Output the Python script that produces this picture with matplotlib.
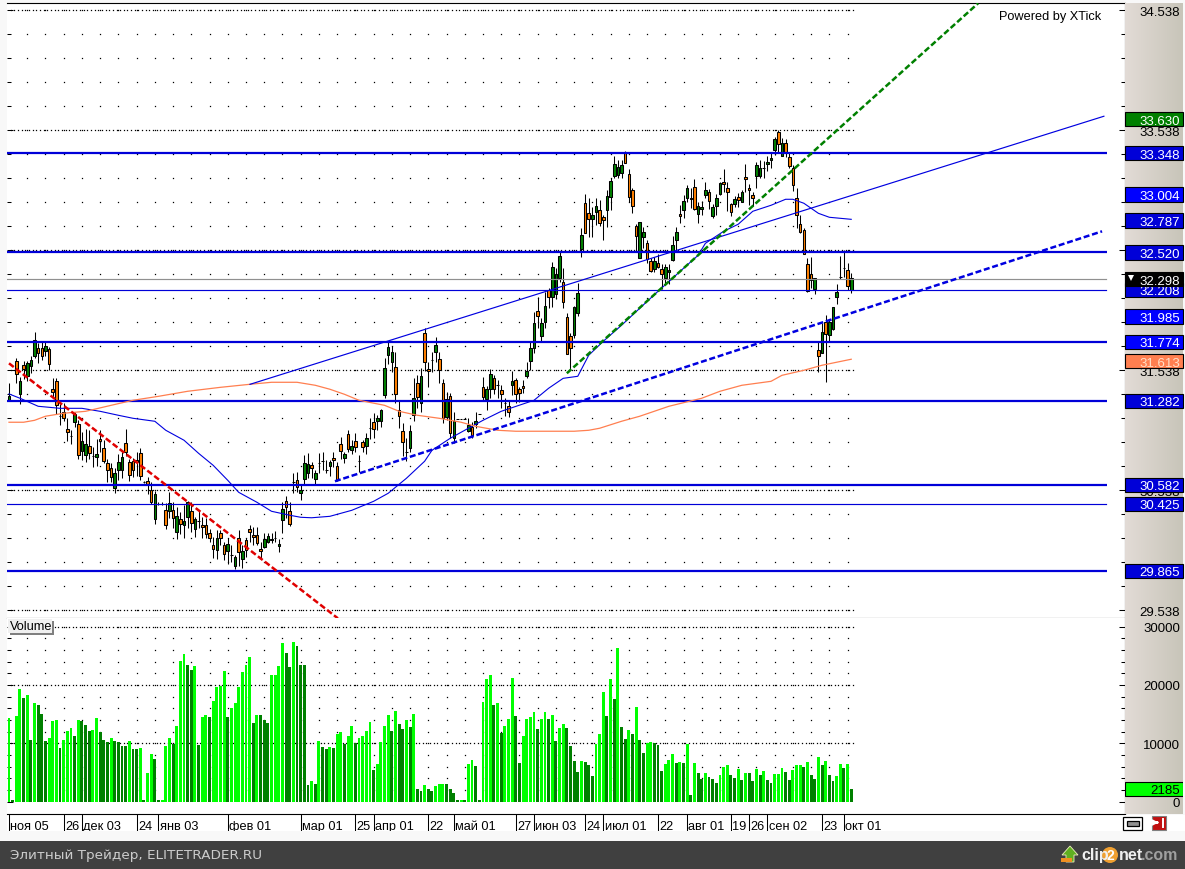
import numpy as np
import matplotlib
matplotlib.use('Agg')
import matplotlib.pyplot as plt
from matplotlib.patches import Rectangle, Circle, Polygon

plt.rcParams['font.family'] = ['Liberation Sans', 'DejaVu Sans']

highs = [
    31.430, 31.544, 31.638, 31.485, 31.619, 31.619, 31.660, 31.855, 31.763, 31.771,
    31.782, 31.735, 31.477, 31.477, 31.255, 31.263, 31.144, 31.041, 31.194, 31.124,
    31.027, 31.046, 31.041, 30.902, 30.966, 31.041, 30.957, 30.799, 30.763, 30.721,
    30.838, 30.855, 31.049, 30.799, 30.810, 30.860, 30.888, 30.616, 30.646, 30.610,
    30.532, 30.438, 30.438, 30.430, 30.527, 30.444, 30.396, 30.360, 30.416, 30.449,
    30.444, 30.319, 30.366, 30.319, 30.305, 30.213, 30.152, 30.207, 30.207, 30.110,
    30.138, 30.082, 29.999, 30.210, 30.082, 30.138, 30.249, 30.235, 30.230, 30.110,
    30.180, 30.185, 30.180, 30.202, 30.132, 30.444, 30.494, 30.444, 30.680, 30.694,
    30.591, 30.832, 30.846, 30.777, 30.707, 30.846, 30.860, 30.791, 30.791, 30.860,
    30.777, 30.985, 30.860, 31.041, 30.957, 31.013, 30.832, 30.957, 31.013, 31.138,
    31.179, 31.165, 31.213, 31.638, 31.777, 31.743, 31.688, 31.285, 31.096, 30.971,
    31.082, 31.471, 31.499, 31.554, 31.888, 31.610, 31.688, 31.813, 31.688, 31.465,
    31.354, 31.346, 31.193, 31.135, 31.135, 31.135, 31.138, 31.110, 31.193, 31.177,
    31.479, 31.410, 31.546, 31.499, 31.457, 31.415, 31.304, 31.282, 31.535, 31.471,
    31.402, 31.457, 31.610, 31.782, 32.027, 32.152, 31.971, 32.193, 32.227, 32.443,
    32.388, 32.527, 32.388, 32.013, 31.846, 32.077, 32.263, 32.727, 33.005, 32.977,
    32.902, 32.977, 32.960, 32.832, 33.041, 33.138, 33.327, 33.291, 33.291, 33.366,
    33.219, 33.055, 32.755, 32.777, 32.732, 32.624, 32.471, 32.485, 32.507, 32.427,
    32.424, 32.424, 32.660, 32.735, 32.916, 32.999, 33.082, 33.055, 33.130, 32.944,
    32.949, 33.105, 33.049, 32.921, 33.005, 33.110, 33.219, 33.110, 32.930, 32.994,
    33.013, 33.041, 33.255, 33.088, 33.027, 33.277, 33.288, 33.285, 33.327, 33.360,
    33.485, 33.541, 33.471, 33.466, 33.346, 33.249, 33.055, 32.832, 32.721, 32.471,
    32.485, 32.310, 31.771, 31.930, 31.999, 31.957, 32.069, 32.255, 32.494, 32.541,
    32.430, 32.346]

lows = [
    31.291, 31.544, 31.430, 31.255, 31.466, 31.452, 31.513, 31.638, 31.602, 31.624,
    31.660, 31.541, 31.319, 31.171, 31.082, 31.116, 30.949, 30.924, 31.069, 30.799,
    30.791, 30.777, 30.799, 30.730, 30.744, 30.860, 30.763, 30.605, 30.610, 30.513,
    30.624, 30.638, 30.827, 30.616, 30.646, 30.660, 30.624, 30.596, 30.507, 30.421,
    30.257, 30.416, 30.416, 30.216, 30.305, 30.227, 30.132, 30.171, 30.144, 30.221,
    30.194, 30.146, 30.221, 30.144, 30.138, 30.110, 29.971, 29.963, 30.082, 29.957,
    29.921, 29.944, 29.880, 29.907, 29.894, 29.985, 30.110, 30.082, 30.082, 29.971,
    30.055, 30.096, 30.096, 30.110, 30.021, 30.185, 30.305, 30.241, 30.513, 30.527,
    30.457, 30.582, 30.644, 30.638, 30.582, 30.680, 30.707, 30.680, 30.660, 30.735,
    30.619, 30.799, 30.763, 30.860, 30.838, 30.860, 30.694, 30.860, 30.838, 30.965,
    30.971, 31.040, 31.063, 31.304, 31.588, 31.527, 31.263, 31.054, 30.827, 30.785,
    30.860, 31.115, 31.221, 31.193, 31.532, 31.402, 31.527, 31.610, 31.435, 31.096,
    31.124, 30.971, 30.929, 31.135, 31.135, 31.135, 31.021, 30.977, 31.054, 31.177,
    31.290, 31.207, 31.304, 31.340, 31.304, 31.221, 31.160, 31.146, 31.332, 31.268,
    31.277, 31.346, 31.471, 31.540, 31.679, 31.888, 31.777, 31.888, 32.054, 32.068,
    32.132, 32.277, 32.054, 31.671, 31.540, 31.804, 31.990, 32.485, 32.680, 32.652,
    32.652, 32.749, 32.744, 32.624, 32.735, 32.874, 33.144, 33.138, 33.144, 33.263,
    32.938, 32.852, 32.527, 32.471, 32.555, 32.430, 32.360, 32.355, 32.394, 32.216,
    32.263, 32.255, 32.452, 32.541, 32.763, 32.810, 32.944, 32.888, 32.877, 32.763,
    32.832, 32.971, 32.882, 32.810, 32.832, 32.999, 33.027, 32.866, 32.827, 32.902,
    32.902, 32.938, 33.021, 32.916, 32.907, 33.060, 33.138, 33.138, 33.199, 33.221,
    33.332, 33.360, 33.324, 33.319, 33.221, 33.032, 32.721, 32.680, 32.507, 32.194,
    32.221, 32.174, 31.527, 31.680, 31.444, 31.785, 31.874, 32.091, 32.296, 32.319,
    32.207, 32.180]

opens = [
    31.291, 31.544, 31.619, 31.341, 31.582, 31.491, 31.577, 31.660, 31.721, 31.727,
    31.699, 31.713, 31.385, 31.452, 31.157, 31.194, 31.046, 30.994, 31.105, 31.088,
    30.869, 30.832, 30.910, 30.827, 30.816, 30.969, 30.888, 30.769, 30.721, 30.555,
    30.707, 30.707, 30.930, 30.771, 30.785, 30.791, 30.852, 30.607, 30.613, 30.544,
    30.299, 30.427, 30.427, 30.377, 30.369, 30.374, 30.194, 30.302, 30.249, 30.316,
    30.369, 30.213, 30.282, 30.252, 30.246, 30.185, 30.085, 30.041, 30.185, 30.085,
    30.032, 29.996, 29.910, 30.138, 29.966, 30.121, 30.219, 30.169, 30.169, 30.052,
    30.066, 30.110, 30.121, 30.138, 30.077, 30.291, 30.452, 30.369, 30.607, 30.627,
    30.519, 30.632, 30.685, 30.752, 30.632, 30.769, 30.785, 30.707, 30.741, 30.810,
    30.744, 30.927, 30.807, 31.010, 30.877, 30.949, 30.785, 30.938, 30.907, 31.054,
    31.110, 31.118, 31.115, 31.332, 31.665, 31.604, 31.568, 31.210, 31.035, 30.860,
    30.893, 31.165, 31.435, 31.268, 31.852, 31.552, 31.624, 31.690, 31.635, 31.435,
    31.152, 31.327, 30.977, 31.135, 31.135, 31.135, 31.035, 31.068, 31.088, 31.177,
    31.402, 31.299, 31.382, 31.477, 31.415, 31.377, 31.268, 31.243, 31.415, 31.460,
    31.385, 31.410, 31.493, 31.615, 31.721, 32.035, 31.827, 31.943, 32.207, 32.152,
    32.171, 32.304, 32.277, 31.985, 31.827, 31.832, 32.018, 32.549, 32.935, 32.852,
    32.799, 32.855, 32.877, 32.819, 32.874, 32.982, 33.157, 33.169, 33.185, 33.360,
    33.177, 33.044, 32.738, 32.477, 32.649, 32.602, 32.449, 32.382, 32.435, 32.385,
    32.310, 32.360, 32.457, 32.624, 32.841, 32.874, 32.977, 32.977, 33.069, 32.841,
    32.885, 32.999, 33.027, 32.827, 32.910, 33.005, 33.110, 33.060, 32.927, 32.924,
    32.985, 32.944, 33.152, 33.060, 33.002, 33.160, 33.157, 33.224, 33.257, 33.294,
    33.374, 33.521, 33.327, 33.435, 33.319, 33.227, 32.977, 32.760, 32.710, 32.427,
    32.344, 32.213, 31.707, 31.685, 31.944, 31.832, 31.882, 32.152, 32.313, 32.391,
    32.377, 32.210]

closes = [
    31.324, 31.544, 31.507, 31.452, 31.549, 31.596, 31.624, 31.791, 31.685, 31.660,
    31.744, 31.594, 31.360, 31.249, 31.157, 31.144, 31.027, 30.994, 31.171, 30.832,
    30.952, 30.924, 30.846, 30.827, 30.844, 30.949, 30.782, 30.707, 30.649, 30.680,
    30.777, 30.819, 30.855, 30.666, 30.707, 30.777, 30.657, 30.607, 30.591, 30.438,
    30.510, 30.427, 30.427, 30.249, 30.435, 30.305, 30.327, 30.260, 30.285, 30.438,
    30.266, 30.302, 30.282, 30.235, 30.174, 30.144, 30.052, 30.144, 30.144, 30.007,
    30.094, 29.996, 29.982, 30.027, 30.030, 30.041, 30.194, 30.152, 30.096, 30.032,
    30.135, 30.160, 30.135, 30.138, 30.094, 30.385, 30.399, 30.257, 30.607, 30.569,
    30.544, 30.763, 30.757, 30.727, 30.685, 30.769, 30.785, 30.707, 30.777, 30.791,
    30.624, 30.866, 30.838, 30.882, 30.910, 30.902, 30.785, 30.902, 30.977, 31.054,
    31.049, 31.143, 31.207, 31.560, 31.729, 31.693, 31.340, 31.157, 30.943, 30.860,
    31.035, 31.310, 31.313, 31.493, 31.610, 31.535, 31.624, 31.752, 31.543, 31.138,
    31.299, 31.018, 31.118, 31.135, 31.135, 31.135, 31.082, 30.999, 31.118, 31.177,
    31.318, 31.382, 31.510, 31.382, 31.415, 31.340, 31.268, 31.193, 31.452, 31.340,
    31.349, 31.388, 31.535, 31.721, 31.935, 31.993, 31.929, 32.077, 32.146, 32.402,
    32.343, 32.493, 32.110, 31.674, 31.727, 32.065, 32.185, 32.669, 32.685, 32.799,
    32.830, 32.910, 32.766, 32.794, 32.994, 33.119, 33.260, 33.235, 33.252, 33.266,
    32.982, 32.910, 32.660, 32.777, 32.694, 32.466, 32.366, 32.452, 32.402, 32.344,
    32.402, 32.377, 32.582, 32.694, 32.827, 32.952, 33.060, 32.963, 32.882, 32.907,
    32.902, 33.044, 32.949, 32.902, 32.977, 33.102, 33.094, 33.027, 32.860, 32.969,
    32.957, 33.027, 33.132, 33.041, 32.977, 33.252, 33.227, 33.224, 33.277, 33.310,
    33.469, 33.424, 33.435, 33.352, 33.241, 33.082, 32.835, 32.694, 32.510, 32.202,
    32.291, 32.310, 31.660, 31.860, 31.841, 31.944, 32.069, 32.194, 32.313, 32.391,
    32.244, 32.310]

volumes = [
    14350, 290, 14750, 19400, 17850, 18370, 10620, 16990, 16650, 15100,
    10450, 10960, 13890, 14060, 9240, 10620, 12170, 12690, 11310, 14060,
    13890, 13200, 12170, 12340, 14410, 12000, 10620, 10270, 10960, 10450,
    10270, 9590, 9590, 10450, 9070, 9070, 9240, 290, 4940, 8210,
    7350, 290, 290, 9590, 10960, 9930, 13030, 24050, 25260, 23530,
    22670, 23360, 9760, 14580, 14920, 14580, 17330, 19750, 19920, 22500,
    14580, 16130, 16990, 19750, 22330, 23530, 24740, 13550, 14920, 14920,
    14060, 13550, 21810, 21810, 23360, 27150, 25430, 23020, 27320, 26630,
    23530, 23530, 2870, 3560, 3040, 10450, 9410, 9070, 9410, 9240,
    11650, 12000, 9930, 11310, 13030, 10100, 10960, 11310, 12170, 13720,
    5450, 6490, 10270, 13030, 14920, 12170, 15610, 13370, 12510, 14060,
    12860, 15100, 2180, 1840, 2870, 2180,
    1840, 2700, 3040, 3040, 3040, 2180, 1490, 290, 290, 290,
    6490, 7180, 6140, 290, 17160, 21120, 21810, 16650, 16990, 11820,
    13030, 14240, 21300, 14750, 6660, 11310, 14240, 14580, 15440, 12510,
    14240, 15440, 14240, 14920, 10450, 12690, 13370, 12690, 9590, 7000,
    5110, 7000, 6830, 6310, 4420, 9930, 11650, 18880, 14750, 21120,
    17680, 26290, 12860, 10790, 12340, 11650, 16300, 10620, 8380, 10100,
    10270, 10100, 9760, 5280, 6490, 7180, 8210, 6660, 6830, 6660,
    9930, 1150, 6660, 4940, 3900, 4940, 4250, 3900, 3210, 4590,
    5970, 6310, 4590, 4080, 5630, 3730, 4940, 4940, 3560, 5630,
    4590, 5280, 3730, 3210, 4760, 4760, 5800, 5110, 3730, 5450,
    6310, 6310, 5970, 6830, 4590, 3900, 7690, 6310, 7000, 4590,
    3560, 4420, 6490, 5800, 6490, 2185]

vol_kinds = ("LDLLDLDLDD" "DLLLDLLLDL" "DDDLLDDDLD" "DDDLDDLDLL" "DDLLLDLLLD" "DLDLLDLLLL"
             "DLLLLLLDLD" "DDLLLLDDLD" "DDDLDLDDLD" "LLDLLDLLLL" "DLLLLDLDDL" "DLDDLD"
             "DLLLDDDDLD" "LLDDLLLDLD" "LLLDDLLLLD" "LLDLDLLDDD" "DLDDDLLLDL" "DLDDLDLDDL"
             "LDDDLLLDLD" "LDLDDLDDDL" "LLDDLDLDDL" "DLDDLLLDDL" "LLDLDDLDLD" "DLLDLD")

ma_blue_idx = [0, 3, 8, 14, 20, 25, 30, 34, 40, 43, 48, 52, 56, 60, 63, 68, 72, 77, 80, 83, 88, 94, 100,
               104, 109, 114, 116, 121, 126, 130, 135, 144, 148, 152, 156, 159, 163, 168, 173, 178, 182,
               185, 189, 191, 196, 200, 204, 209, 213, 215, 218, 222, 225, 231]
ma_blue = [31.341, 31.305, 31.238, 31.221, 31.221, 31.196, 31.163, 31.138, 31.113, 31.038, 30.955, 30.846,
           30.746, 30.621, 30.521, 30.438, 30.363, 30.330, 30.313, 30.309, 30.321, 30.371, 30.446, 30.513,
           30.638, 30.780, 30.871, 30.971, 31.055, 31.121, 31.196, 31.288, 31.388, 31.471, 31.488, 31.663,
           31.780, 31.913, 32.055, 32.196, 32.305, 32.388, 32.496, 32.596, 32.696, 32.755, 32.863, 32.913,
           32.963, 32.963, 32.930, 32.846, 32.813, 32.796]

ma_orange_idx = [0, 4, 7, 10, 15, 21, 28, 34, 41, 49, 58, 66, 72, 79, 84, 88, 92, 96, 103, 107, 112, 118,
                 124, 128, 134, 139, 148, 155, 159, 162, 168, 173, 181, 190, 195, 201, 209, 212, 218, 223, 231]
ma_orange = [31.105, 31.105, 31.121, 31.155, 31.180, 31.196, 31.246, 31.288, 31.321, 31.363, 31.396, 31.421,
             31.438, 31.438, 31.413, 31.380, 31.338, 31.288, 31.246, 31.196, 31.163, 31.138, 31.105, 31.071,
             31.038, 31.030, 31.030, 31.030, 31.038, 31.055, 31.113, 31.155, 31.238, 31.305, 31.363, 31.413,
             31.446, 31.496, 31.538, 31.580, 31.630]

# trend lines: start bar, start price, end bar, end price
trend_red = [0, 31.596, 90.2, 29.471]
trend_green = [153, 31.513, 265.8, 34.596]
trend_blue = [89.4, 30.613, 299.8, 32.696]
channel_blue = [66.1, 31.421, 300.3, 33.655]

levels_thick = [33.348, 32.520, 31.774, 31.282, 30.582, 29.865]
levels_thin = [32.208, 30.425]
last_price = 32.298

price_ticks = [34.538, 33.538, 32.538, 31.538, 30.538, 29.538]
vol_ticks = [30000, 20000, 10000, 0]

box_values = [33.630, 33.348, 33.004, 32.787, 32.520, 32.208, 31.985, 31.774, 31.613, 31.282, 30.582, 30.425, 29.865]
box_colors = ['#008000', '#0000d8', '#0000ff', '#0000d8', '#0000d8', '#0000d8', '#0000ff', '#0000ff',
              '#ff7f50', '#0000d8', '#0000d8', '#0000d8', '#0000d8']

date_idx = [0, 15, 20, 35, 41, 60, 80, 95, 100, 115, 122, 139, 144, 158, 163, 178, 186, 198, 203, 208, 223, 229]
date_labels = ['ноя 05', '26', 'дек 03', '24', 'янв 03', 'фев 01', 'мар 01', '25', 'апр 01', '22', 'май 01',
               '27', 'июн 03', '24', 'июл 01', '22', 'авг 01', '19', '26', 'сен 02', '23', 'окт 01']

W, H = 1185, 870
TXT = 9.5
SMALL = 9.2
STEP = 3.646
GREEN = '#008000'
ORANGE = '#ff8000'
THICK_BLUE = '#0000d8'


def add_px_axes(x0, y0, x1, y1):
    return fig.add_axes([x0 / W, 1 - y1 / H, (x1 - x0) / W, (y1 - y0) / H])


def px_price(y):
    return 34.632 - y / 120


def px_vol(y):
    return (802.7 - y) / 0.00583


fig = plt.figure(figsize=(W / 100, H / 100), dpi=100, facecolor='#f8f8f8')

xlim = ((7 - 9) / STEP, (1124.5 - 9) / STEP)
n = len(closes)
x = np.arange(n)
opens = np.array(opens)
closes = np.array(closes)

# price pane
ax = add_px_axes(7, 3.5, 1124.5, 619)
ax.set_xlim(xlim)
ax.set_ylim(px_price(619), px_price(3.5))

# grid of dots like the terminal draws it
grid_x = np.arange(5, 232, 5)
minor_y = np.arange(34.538, 29.4, -0.2)
gx, gy = np.meshgrid(grid_x, minor_y)
ax.plot(gx.ravel(), gy.ravel(), ls='', marker='s', ms=0.9, mew=0, color='k', zorder=1)
for p in price_ticks:
    ax.plot(x + 0.5, np.full(n, p), ls='', marker='s', ms=0.9, mew=0, color='k', zorder=1)

# candles
ax.vlines(x, lows, highs, color='k', lw=0.75, zorder=2)
up = closes >= opens
colors = [GREEN if u else ORANGE for u in up]
ax.bar(x, closes - opens, bottom=opens, width=2.6 / STEP, color=colors, edgecolor='k', lw=0.75, zorder=2.5)

# levels and lines
for v in levels_thick:
    ax.plot([xlim[0], (1107 - 9) / STEP], [v, v], color=THICK_BLUE, lw=1.6, zorder=3, solid_capstyle='butt')
for v in levels_thin:
    ax.plot([xlim[0], (1106 - 9) / STEP], [v, v], color=THICK_BLUE, lw=0.85, zorder=3)
ax.plot([xlim[0], (1106 - 9) / STEP], [last_price, last_price], color='#909090', lw=0.85, zorder=3)

ax.plot(ma_blue_idx, ma_blue, color='#0000e0', lw=0.8, zorder=3)
ax.plot(ma_orange_idx, ma_orange, color='#ff7f50', lw=0.9, zorder=3)
ax.plot(channel_blue[0::2], channel_blue[1::2], color='#0000e0', lw=0.85, zorder=3)
ax.plot(trend_red[0::2], trend_red[1::2], color='#e00000', lw=1.8, ls=(0, (2.4, 1.1)), zorder=3.2)
ax.plot(trend_green[0::2], trend_green[1::2], color=GREEN, lw=1.8, ls=(0, (2.4, 1.1)), zorder=3.2)
ax.plot(trend_blue[0::2], trend_blue[1::2], color='#0000e0', lw=1.8, ls=(0, (2.4, 1.1)), zorder=3.2)

ax.text((1101 - 9) / STEP, px_price(17), 'Powered by XTick', fontsize=SMALL, ha='right', va='center', color='k')

ax.set_xticks([])
ax.set_yticks(np.arange(34.538, 29.4, -1.0))
ax.set_yticks(minor_y, minor=True)
ax.set_yticklabels([])
ax.tick_params(axis='y', which='both', left=True, right=True, direction='in', length=3, width=0.75)
ax.tick_params(axis='y', which='major', length=4.5)
ax.spines['left'].set_visible(False)

# volume pane
vax = add_px_axes(7, 619, 1124.5, 815)
vax.set_xlim(xlim)
vax.set_ylim(px_vol(815), px_vol(619))
vol_grid_y = np.arange(2000, 30001, 2000)
gx, gy = np.meshgrid(grid_x, vol_grid_y)
vax.plot(gx.ravel(), gy.ravel(), ls='', marker='s', ms=0.9, mew=0, color='k', zorder=1)
for p in [10000, 20000, 30000]:
    vax.plot(x + 0.5, np.full(n, p), ls='', marker='s', ms=0.9, mew=0, color='k', zorder=1)
vol_colors = ['#00ff00' if k == 'L' else GREEN for k in vol_kinds]
vax.bar(x, volumes, width=2.9 / STEP, color=vol_colors, lw=0, zorder=2)
vax.set_xticks([])
vax.set_yticks(vol_ticks)
vax.set_yticks(vol_grid_y, minor=True)
vax.set_yticklabels([])
vax.tick_params(axis='y', which='both', left=True, right=True, direction='in', length=3, width=0.75)
vax.tick_params(axis='y', which='major', length=4.5)
vax.spines['left'].set_visible(False)
vax.spines['top'].set_visible(False)
vax.spines['bottom'].set_visible(False)

# date row
dax = add_px_axes(7, 815, 1124.5, 832)
dax.set_xlim(xlim)
dax.set_ylim(1, 0)
dax.vlines(date_idx, 0, 1, color='k', lw=0.75)
for d, lab in zip(date_idx, date_labels):
    dax.text(d + 0.35, 0.72, lab, fontsize=SMALL, ha='left', va='center', color='k', clip_on=True)
dax.set_xticks([])
dax.set_yticks([])
for s in ['left', 'right', 'bottom']:
    dax.spines[s].set_visible(False)
dax.spines['top'].set_linewidth(0.8)

# right price panel
grad = np.linspace(0, 1, 64).reshape(1, -1, 1)
grad = np.array([226, 219, 214]) / 255 * (1 - grad) + np.array([200, 197, 185]) / 255 * grad
pax = add_px_axes(1125, 3.5, 1183, 619)
pax.imshow(grad, aspect='auto', extent=[0, 1, px_price(619), px_price(3.5)], zorder=0)
pax.set_xlim(0, 1)
pax.set_ylim(px_price(619), px_price(3.5))
pax.axis('off')
off = 0.012
for p in price_ticks:
    pax.text(0.95, p - off, '%.3f' % p, fontsize=TXT, ha='right', va='center', color='k', zorder=1)
for v, c in zip(box_values, box_colors):
    pax.add_patch(Rectangle((0, v - 7.2 / 120), 1, 14.4 / 120, fc=c, ec='k', lw=0.8, zorder=2, clip_on=False))
    tc = 'white' if c != '#ff7f50' else '#ffe0c8'
    pax.text(0.95, v - off, '%.3f' % v, fontsize=TXT, ha='right', va='center', color=tc, zorder=3)
pax.add_patch(Rectangle((0, last_price - 7.2 / 120), 1, 14.4 / 120, fc='k', ec='k', lw=0.8, zorder=4, clip_on=False))
pax.text(0.95, last_price - off, '%.3f' % last_price, fontsize=TXT, ha='right', va='center', color='white', zorder=5)
pax.plot([0.095], [last_price + 0.012], marker='v', ms=4, mew=0, color='white', zorder=5)

# right volume panel
qax = add_px_axes(1125, 619, 1183, 815)
qax.imshow(grad, aspect='auto', extent=[0, 1, px_vol(815), px_vol(619)], zorder=0)
qax.set_xlim(0, 1)
qax.set_ylim(px_vol(815), px_vol(619))
qax.axis('off')
for v in vol_ticks:
    qax.text(0.95, v - 200, str(v), fontsize=TXT, ha='right', va='center', color='k')
last_vol = volumes[-1]
qax.add_patch(Rectangle((0, last_vol - 7.2 / 0.00583), 1, 14.4 / 0.00583, fc='#00ff00', ec='k', lw=0.8, zorder=2))
qax.text(0.95, last_vol - 200, str(last_vol), fontsize=TXT, ha='right', va='center', color='k', zorder=3)

# window chrome, in pixel coordinates
cax = fig.add_axes([0, 0, 1, 1], facecolor='none', zorder=10)
cax.set_xlim(0, W)
cax.set_ylim(H, 0)
cax.axis('off')
cax.add_patch(Rectangle((0, 842), W, 28, fc='#404040', ec='none'))
cax.add_patch(Rectangle((1125, 815.5), 60, 16.5, fc='white', ec='none'))
cax.text(10, 855.5, 'Элитный Трейдер, ELITETRADER.RU', fontsize=9.7, color='#cccccc', ha='left', va='center',
         family='DejaVu Sans')
# clip2net mark
cax.add_patch(Polygon([(1070, 847), (1078, 856), (1074, 856), (1074, 863), (1066, 863), (1066, 856), (1062, 856)],
                      fc='#60b020', ec='#f0f0c0', lw=0.6))
cax.add_patch(Rectangle((1061, 859), 11, 4, fc='#f09020', ec='none'))
cax.text(1081, 856, 'clip', fontsize=11.5, color='#f0f0f0', fontweight='bold', ha='left', va='center')
cax.add_patch(Circle((1110, 856), 8, fc='#f0a030', ec='none'))
cax.text(1110, 856, '2', fontsize=10, color='white', fontweight='bold', ha='center', va='center')
cax.text(1118.5, 856, 'net', fontsize=11.5, color='#f0f0f0', fontweight='bold', ha='left', va='center')
cax.text(1141, 856, '.com', fontsize=11.5, color='#a0a0a0', fontweight='bold', ha='left', va='center')
# volume tab
cax.add_patch(Rectangle((10, 622), 44, 14, fc='#808080', ec='none'))
cax.add_patch(Rectangle((8, 620), 44, 14, fc='#f0f0f0', ec='none'))
cax.text(10, 627.5, 'Volume', fontsize=SMALL, ha='left', va='center', color='k')
# link and exit icons
cax.add_patch(Rectangle((1123, 818), 19, 12.5, fc='white', ec='k', lw=0.9))
cax.add_patch(Rectangle((1126.5, 821.5), 12, 5.5, fc='#909090', ec='k', lw=0.9))
cax.add_patch(Rectangle((1152, 817), 14, 13.5, fc='#c01010', ec='#808080', lw=0.8))
cax.annotate('', xy=(1161.5, 823.5), xytext=(1154, 823.5),
             arrowprops=dict(arrowstyle='-|>', color='white', lw=1.8, mutation_scale=7))
cax.plot([1163, 1163], [819.5, 827.5], color='white', lw=1.4)

fig.savefig('out.png', dpi=100, facecolor=fig.get_facecolor())
